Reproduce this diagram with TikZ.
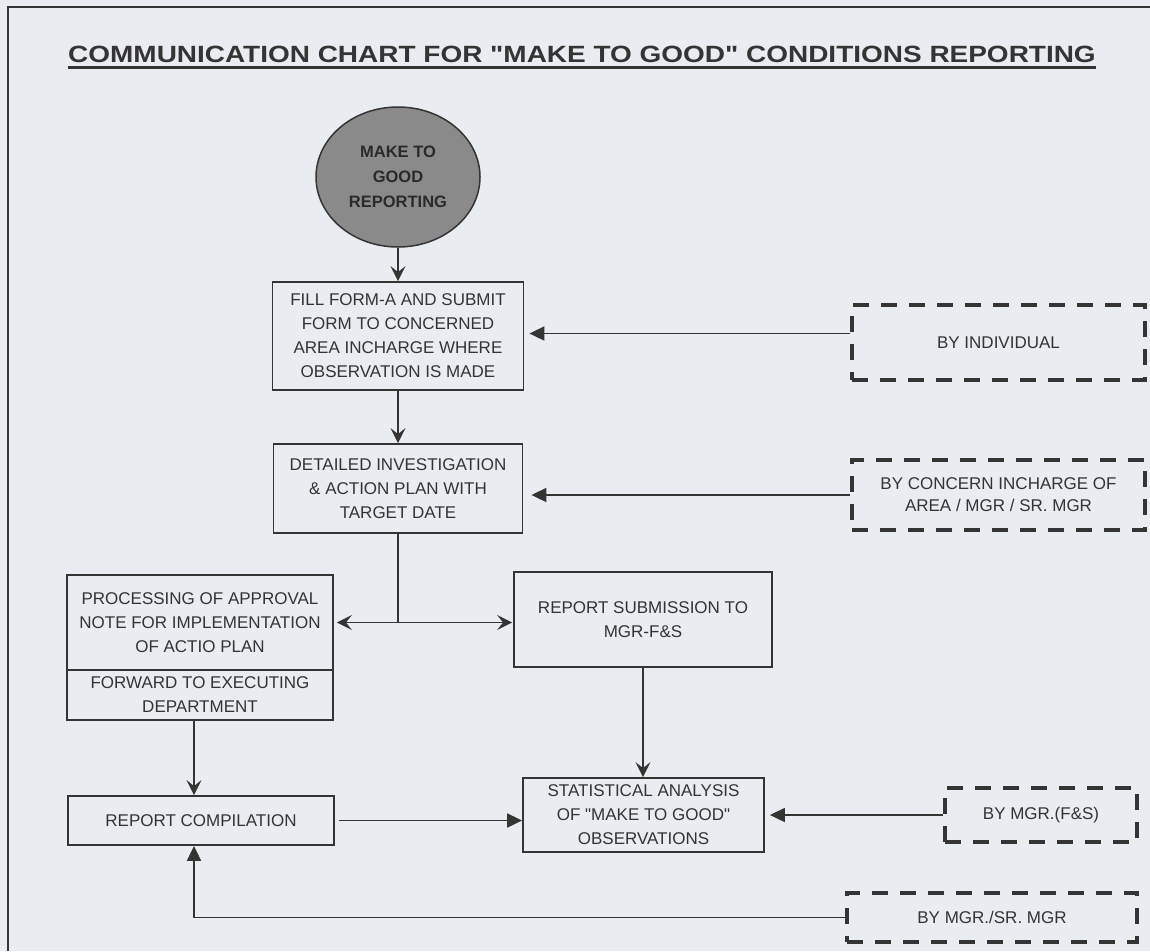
\documentclass[tikz,border=0pt]{standalone}
\usepackage{fontspec}
\setmainfont{Liberation Sans}[Ligatures=TeXOff]
\usetikzlibrary{arrows.meta,shapes.geometric}
\definecolor{paper}{RGB}{233,236,240}
\definecolor{ink}{RGB}{52,52,52}
\definecolor{disc}{RGB}{138,138,138}

\begin{document}
\begin{tikzpicture}[x=1pt,y=-1pt,
		box/.style={draw=ink,line width=1.8pt,align=center,inner sep=0pt,text=ink,font=\fontsize{17}{24}\selectfont},
		dbox/.style={draw=ink,line width=3.8pt,dash pattern=on 16pt off 12pt,align=center,inner sep=0pt,text=ink,font=\fontsize{17}{22}\selectfont},
		link/.style={draw=ink,line width=1.9pt},
		fl/.style={link,-{Stealth[length=15pt,width=15pt,inset=6pt]}},
		both/.style={link,{Stealth[length=15pt,width=15pt,inset=6pt]}-{Stealth[length=15pt,width=15pt,inset=6pt]}},
		tri/.style={link,-{Triangle[length=15pt,width=14pt]}}]
		\fill[paper] (0,0) rectangle (1150,951);
		\useasboundingbox (0,0) rectangle (1150,951);
		\draw[ink,line width=1.8pt] (8,951) -- (8,7) -- (1150,7);

		% title
		\node[anchor=base,inner xsep=0pt,inner ysep=5pt,text=ink,font=\bfseries\fontsize{23.5}{28}\selectfont] (title) at (582,62)
			{\scalebox{1.19}[1]{COMMUNICATION CHART FOR "MAKE TO GOOD" CONDITIONS REPORTING}};
		\draw[ink,line width=3pt] (title.south west) -- (title.south east);

		% main flow
		\node[ellipse,draw=ink,fill=disc,line width=1.5pt,minimum width=164pt,minimum height=140pt,inner sep=0pt,align=center,
			text=ink!80!black,font=\bfseries\fontsize{16.5}{25}\selectfont] (mtg) at (398,177) {MAKE TO\\GOOD\\REPORTING};
		\node[box,minimum width=251pt,minimum height=108pt] (fill) at (398,336)
			{FILL FORM-A AND SUBMIT\\FORM TO CONCERNED\\AREA INCHARGE WHERE\\OBSERVATION IS MADE};
		\node[box,minimum width=249pt,minimum height=89pt] (invest) at (398,488.5)
			{DETAILED INVESTIGATION\\\& ACTION PLAN WITH\\TARGET DATE};
		\node[box,minimum width=266pt,minimum height=95pt] (approval) at (200,622.5)
			{PROCESSING OF APPROVAL\\NOTE FOR IMPLEMENTATION\\OF ACTIO PLAN};
		\node[box,minimum width=266pt,minimum height=50pt] (forward) at (200,695)
			{FORWARD TO EXECUTING\\DEPARTMENT};
		\node[box,minimum width=258pt,minimum height=95pt] (submit) at (643,619.5)
			{REPORT SUBMISSION TO\\MGR-F\&S};
		\node[box,minimum width=266pt,minimum height=49pt] (compile) at (201,820.5) {REPORT COMPILATION};
		\node[box,minimum width=241pt,minimum height=74pt] (stats) at (643.5,815)
			{STATISTICAL ANALYSIS\\OF "MAKE TO GOOD"\\OBSERVATIONS};

		% who does it
		\node[dbox,minimum width=293pt,minimum height=75pt] (indiv) at (998.5,342.5) {BY INDIVIDUAL};
		\node[dbox,minimum width=293pt,minimum height=70pt] (concern) at (998.5,495)
			{BY CONCERN INCHARGE OF\\AREA / MGR / SR. MGR};
		\node[dbox,minimum width=192pt,minimum height=54pt] (mgrfs) at (1041,815) {BY MGR.(F\&S)};
		\node[dbox,minimum width=290pt,minimum height=49pt] (mgrsr) at (992,917.5) {BY MGR./SR. MGR};

		\coordinate (indivout) at ([yshift=9pt]indiv.west);
		\coordinate (fwdout) at ([xshift=-6pt]forward.south);
		\coordinate (compin) at ([xshift=-7pt]compile.south);

		\draw[fl] (mtg.south) -- (fill.north);
		\draw[fl] (fill) -- (invest);
		\draw[tri,shorten >=5pt] (indivout) -- (indivout -| fill.east);
		\draw[tri,shorten >=8pt] (concern.west) -- (concern.west -| invest.east);
		\draw[link] (invest.south) -- (invest.south |- approval.east);
		\draw[both,shorten <=3pt,shorten >=1pt] (approval.east) -- (approval.east -| submit.west);
		\draw[fl] (fwdout) -- (fwdout |- compile.north);
		\draw[fl] (submit.south) -- (submit.south |- stats.north);
		\draw[tri,shorten <=4pt] (compile.east) -- (compile.east -| stats.west);
		\draw[tri,shorten >=5pt] (mgrfs.west) -- (mgrfs.west -| stats.east);
		\draw[tri] (mgrsr.west) -| (compin);
	\end{tikzpicture}
\end{document}
